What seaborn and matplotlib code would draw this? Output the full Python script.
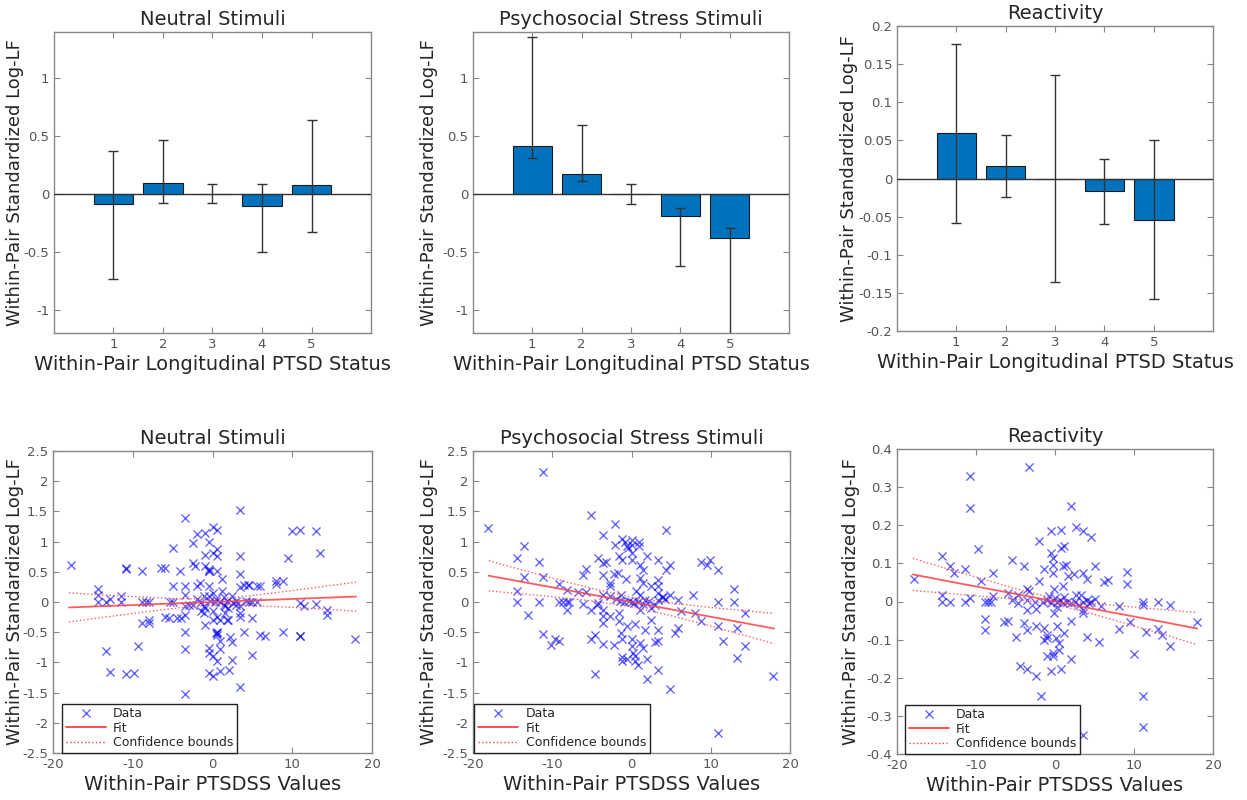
import numpy as np
import pandas as pd
import seaborn as sns
import matplotlib.pyplot as plt
from matplotlib.lines import Line2D
from matplotlib.ticker import FuncFormatter

# --- dados: linha de cima (barras) ---
status = [1, 2, 3, 4, 5]
neutral_bar = [-0.09, 0.095, 0.0, -0.105, 0.078]
neutral_lo = [-0.73, -0.08, -0.08, -0.50, -0.33]
neutral_hi = [0.375, 0.465, 0.085, 0.09, 0.64]

stress_bar = [0.418, 0.175, 0.0, -0.19, -0.38]
stress_lo = [0.31, 0.11, -0.085, -0.62, -1.30]
stress_hi = [1.36, 0.60, 0.09, -0.12, -0.29]

react_bar = [0.060, 0.017, 0.0, -0.017, -0.054]
react_lo = [-0.058, -0.024, -0.136, -0.060, -0.158]
react_hi = [0.177, 0.057, 0.136, 0.025, 0.051]

# --- dados: linha de baixo (dispersao) ---
neutral_x = [-17.8, -14.4, -14.4, -14.4, -13.3, -12.9, -13.3, -12.9, -11.5, -11.5, -10.9, -10.9, -10.9, -9.8,
             -9.4, -8.8, -8.8, -8.8, -8.4, -8.0, -8.0, -8.0, -6.4, -6.0, -6.0, -5.5, -5.3, -4.9, -4.9, -4.9,
             -4.5, -4.0, -4.1, -3.4, -3.4, -3.4, -3.4, -3.4, -3.4, -3.4, -3.4, -2.5, -2.2, -2.5, -2.0, -2.0,
             -1.6, -1.5, -1.1, -1.1, -1.1, -1.0, -1.0, -1.0, -1.0, 0.0, -0.5, -0.5, -0.5, -0.5, -0.5, -0.5,
             -0.5, 0.0, 0.0, 0.0, 0.0, 0.0, 0.6, 0.6, 0.6, 0.6, 0.6, 0.6, 0.6, 0.6, 1.0, 1.0, 1.0, 1.2, 1.2,
             1.4, 1.6, 1.6, 1.8, 2.1, 2.2, 2.5, 2.5, 2.6, 3.5, 3.5, 3.5, 3.5, 3.5, 3.5, 3.5, 3.5, 4.0, 4.4,
             4.6, 4.0, 4.6, 5.0, 5.0, 5.6, 6.0, 5.6, 6.0, 6.6, 8.0, 8.0, 8.9, 8.9, 9.5, 10.0, 11.0, 11.0,
             11.0, 11.0, 11.5, 13.0, 13.0, 13.5, 14.3, 14.3, 17.9,
             -2.0, -1.0, 0.5, 1.0, 1.5, 2.0, 2.5, 3.0, -0.5, 0.0, 1.0, 2.0, -1.5, -2.5, 0.3, -0.3, 1.8,
             3.0, 4.2, 5.0, -3.0, 0.6, 0.5, -0.4]
neutral_y = [0.61, 0.22, 0.12, 0.0, 0.0, 0.05, -0.81, -1.16, 0.1, 0.0, 0.56, 0.55, -1.19, -1.18,
             -0.73, 0.51, -0.35, 0.0, 0.0, 0.0, -0.3, -0.35, 0.56, 0.56, -0.25, -0.27, 0.0, 0.9, 0.26, 0.0,
             -0.27, -0.27, 0.51, 1.39, 0.26, 0.12, -0.21, -0.49, -0.77, -1.52, -0.07, 0.65, 0.59, 0.97, 1.12, 0.26,
             0.31, 0.0, 0.1, -0.07, -0.18, 1.14, 0.77, 0.59, -0.38, 1.24, 1.0, 0.51, 0.54, 0.26, -0.76, -0.85,
             -1.18, 0.81, 0.15, -0.15, -1.23, -0.9, 1.19, 0.87, 0.76, 0.51, -0.51, -0.49, -0.98, -0.25, -0.78, -0.65, -1.15, 0.38, 0.18,
             0.09, -0.07, -0.18, -0.29, -1.12, -0.58, -0.66, -0.96, -0.02, 1.52, 0.76, 0.47, 0.25, -0.07, -0.18, -0.25, -1.4, 0.28, 0.28,
             0.28, -0.5, 0.0, -0.87, -0.27, 0.27, 0.26, 0.0, -0.54, -0.56, 0.34, 0.29, 0.34, -0.5, 0.73, 1.18, 1.19, -0.02,
             -0.56, -0.57, -0.07, 1.17, -0.04, 0.81, -0.13, -0.21, -0.61,
             0.05, -0.1, 0.05, 0.0, -0.05, -0.1, 0.1, -0.05, 0.1, -0.3, -0.3, -0.3, -0.15, -0.05, 0.0, 0.02, 0.02,
             0.02, 0.02, 0.0, -0.05, -0.55, -0.52, 0.52]

stress_x = [-18.1, -14.5, -14.5, -14.5, -13.6, -13.6, -13.1, -11.7, -11.7, -11.2, -11.2, -11.2, -10.1, -9.6,
            -9.1, -9.1, -9.1, -8.6, -8.2, -7.9, -8.2, -8.2, -6.7, -6.1, -5.8, -6.1, -5.8, -5.1, -5.1, -5.1,
            -4.6, -4.6, -4.2, -4.4, -4.2, -3.6, -3.6, -3.2, -3.6, -3.6, -3.6, -3.6, -3.6, -3.6, -2.7, -2.7,
            -2.7, -2.7, -2.2, -2.2, -2.1, -2.1, -1.7, -1.6, -1.2, -1.5, -1.6, -1.6, -1.2, -0.8, -1.3, -1.3,
            -1.2, -1.2, -1.2, -0.7, -0.6, -0.4, -0.6, -0.6, 0.0, 0.1, 0.0, 0.0, 0.0, 0.0, 0.0, 0.2, 0.4,
            0.4, 0.4, 0.6, 0.8, 1.0, 1.0, 1.1, 1.1, 1.1, 1.1, 1.1, 1.4, 1.4, 1.4, 1.7, 1.7, 2.0, 2.0, 2.0,
            2.4, 2.4, 2.5, 3.0, 3.4, 3.4, 3.4, 3.4, 3.4, 3.4, 3.4, 3.4, 3.8, 4.4, 4.4, 4.8, 4.8, 4.8, 5.5,
            5.9, 5.9, 6.3, 7.8, 8.0, 8.8, 8.8, 9.5, 9.9, 10.9, 10.9, 10.9, 10.9, 11.5, 12.9, 12.9, 13.3,
            13.3, 14.3, 14.3, 17.9,
            -1.0, -0.3, 0.3, 0.8, 1.5, 2.2, 3.0, -2.0, 4.0, 4.2]
stress_y = [1.22, 0.73, 0.18, 0.0, 0.92, 0.42, -0.21, 0.66, 0.0, 2.16, 0.41, -0.53, -0.71, -0.62,
            -0.65, 0.3, 0.0, 0.0, 0.0, 0.0, 0.2, -0.13, 0.16, 0.45, 0.54, -0.04, 0.17, 1.44, -0.13, -0.62,
            -0.54, -1.19, 0.73, -0.05, -0.02, 1.11, 0.65, 0.67, 0.45, 0.12, -0.13, -0.24, -0.35, -0.69, 0.26, 0.31,
            0.1, -0.24, -0.71, 0.47, 1.29, 0.95, 0.48, 0.76, 0.7, 0.01, -0.18, -0.32, 1.05, 1.0, 0.12, -0.51,
            -0.62, -0.91, -0.98, 0.38, 0.93, 0.89, -0.4, -0.95, 1.03, 0.95, 0.81, 0.7, 0.0, -0.62, -0.73, -0.84, -0.37,
            -0.9, -0.98, 0.18, -1.04, 1.0, 0.92, 0.62, 0.4, 0.12, -0.13, -0.68, 0.53, 0.31, -0.76, 0.04, -0.46, 0.76, -0.95, -1.28,
            0.26, -0.29, -0.1, -0.67, 0.7, 0.37, 0.26, 0.15, 0.04, -0.46, -0.65, -1.12, 0.09, 1.2, 0.53, 0.62, 0.12, -1.44, -0.51,
            -0.43, 0.04, -0.15, 0.12, -0.18, -0.32, 0.66, 0.62, 0.7, 0.53, 0.0, -0.4, -2.17, -0.65, 0.21, 0.0, -0.43,
            -0.93, -0.18, -0.73, -1.23,
            0.0, 0.02, -0.02, 0.0, -0.03, 0.02, -0.05, 0.05, 0.08, 0.05]

react_x = [-17.9, -14.3, -14.3, -14.3, -13.3, -13.3, -12.8, -11.4, -11.4, -10.8, -10.8, -10.8, -9.8, -9.4,
           -8.9, -8.9, -8.9, -8.5, -8.1, -7.9, -7.9, -6.5, -6.0, -6.0, -5.4, -5.4, -4.9, -4.7, -4.7, -4.4,
           -3.9, -3.9, -3.5, -3.3, -3.5, -3.3, -3.5, -3.5, -3.5, -2.4, -2.4, -2.4, -2.0, -2.0, -1.8, -1.4,
           -1.4, -1.4, -1.0, -1.0, -1.0, -0.5, 0.8, -0.5, -0.3, -0.3, -0.3, -0.5, 0.8, -0.3, -0.2, -0.1,
           -0.1, 0.1, 0.3, 0.5, 0.5, 0.8, 1.1, 1.0, 1.0, 1.2, 1.4, 1.6, 2.0, 2.0, 2.0, 2.4, 2.6, 2.6, 3.3,
           3.5, 3.5, 3.5, 3.5, 3.5, 4.0, 4.0, 4.6, 4.6, 5.1, 5.1, 5.6, 5.8, 6.2, 6.7, 8.1, 8.1, 9.1, 9.1,
           9.5, 10.0, 11.1, 11.1, 11.1, 11.1, 11.5, 13.0, 13.0, 13.5, 14.6, 14.6, 18.0,
           -1.5, -1.0, -0.5, 0.0, 0.3, 0.6, 1.0, 1.5, 2.0, 2.5, 3.0, 3.5, 4.0, 4.3, -2.5, -0.8, 0.2, 1.2]
react_y = [0.058, 0.119, 0.016, 0.0, 0.093, 0.0, 0.075, 0.084, 0.0, 0.33, 0.246, 0.01, 0.138, 0.053,
           -0.047, -0.075, 0.0, 0.0, 0.0, 0.075, 0.014, -0.054, -0.05, 0.023, 0.108, 0.005, -0.093, 0.018, -0.005, -0.17,
           0.094, -0.056, -0.178, 0.352, 0.033, 0.027, 0.005, -0.021, -0.075, -0.019, -0.065, -0.196, 0.158, 0.053, -0.248, 0.084,
           -0.1, -0.07, -0.087, -0.095, -0.143, 0.184, 0.187, 0.128, 0.115, 0.097, 0.075, -0.183, -0.178, -0.135, -0.143, 0.032,
           -0.03, -0.096, -0.065, -0.108, -0.126, 0.14, 0.145, 0.093, 0.04, -0.082, 0.097, 0.066, 0.25, -0.052, -0.152, 0.071, 0.196, 0.018, 0.018,
           0.075, 0.184, -0.021, -0.03, -0.349, 0.058, -0.093, 0.17, 0.0, 0.094, 0.007, -0.106, -0.012, 0.051, 0.056, -0.012, -0.073, 0.077, 0.047,
           -0.054, -0.137, 0.0, -0.008, -0.247, -0.329, -0.08, 0.0, -0.072, -0.089, -0.01, -0.117, -0.054,
           0.0, 0.005, -0.005, 0.01, 0.0, 0.005, -0.003, 0.0, -0.005, 0.0, -0.01, 0.0, 0.003, -0.005, 0.0, 0.015, -0.015, 0.012]

# ajuste linear e limites de confianca
fit_x = [-18, -13.5, -9, -4.5, 0, 4.5, 9, 13.5, 18]
neutral_fit = [-0.09, -0.068, -0.045, -0.022, 0.0, 0.022, 0.045, 0.068, 0.09]
neutral_up = [0.15, 0.116, 0.083, 0.055, 0.05, 0.10, 0.173, 0.25, 0.33]
neutral_dn = [-0.33, -0.25, -0.173, -0.10, -0.05, -0.055, -0.083, -0.116, -0.15]

stress_fit = [0.435, 0.326, 0.218, 0.109, 0.0, -0.11, -0.22, -0.33, -0.44]
stress_up = [0.685, 0.52, 0.36, 0.21, 0.08, -0.01, -0.077, -0.135, -0.19]
stress_dn = [0.185, 0.13, 0.075, 0.01, -0.08, -0.21, -0.363, -0.525, -0.69]

react_fit = [0.071, 0.053, 0.0355, 0.018, 0.0, -0.018, -0.0355, -0.053, -0.071]
react_up = [0.113, 0.085, 0.058, 0.031, 0.008, -0.005, -0.013, -0.021, -0.029]
react_dn = [0.029, 0.021, 0.013, 0.005, -0.008, -0.031, -0.058, -0.085, -0.113]

titles = ['Neutral Stimuli', 'Psychosocial Stress Stimuli', 'Reactivity']
ylab = 'Within-Pair Standardized Log-LF'

sns.set_theme(style='white')
plt.rcParams['font.family'] = ['DejaVu Sans']
plt.rcParams['axes.unicode_minus'] = False

BAR = '#0072BD'
GRAY = '#555555'
# '%g' sem o "-0" que aparece com arange
fmt = FuncFormatter(lambda v, p: '%g' % (round(v, 4) + 0.0))

fig = plt.figure(figsize=(12.47, 8.0), dpi=100)
W, H = 1247.0, 800.0


def mk_ax(l, t, r, b):
    return fig.add_axes([l / W, 1 - b / H, (r - l) / W, (b - t) / H])


def style_ax(ax):
    for s in ax.spines.values():
        s.set_color('#888888')
        s.set_linewidth(1.0)
    ax.tick_params(direction='in', length=4, width=0.8, color='#888888', labelcolor=GRAY,
                   labelsize=9.5, top=True, right=True, bottom=True, left=True, pad=3.5)
    ax.xaxis.set_major_formatter(fmt)
    ax.yaxis.set_major_formatter(fmt)


top_boxes = [(54, 32, 371, 333), (473, 32, 789, 333), (897, 26, 1213, 331)]
bars = [(neutral_bar, neutral_lo, neutral_hi), (stress_bar, stress_lo, stress_hi), (react_bar, react_lo, react_hi)]
top_ylim = [(-1.2, 1.4), (-1.2, 1.4), (-0.2, 0.2)]
top_yticks = [[-1, -0.5, 0, 0.5, 1], [-1, -0.5, 0, 0.5, 1], np.arange(-0.2, 0.21, 0.05)]
top_ylx = [-0.094, -0.111, -0.123]

for i in range(3):
    ax = mk_ax(*top_boxes[i])
    vals, lo, hi = bars[i]
    df = pd.DataFrame({'status': status, 'val': vals})
    sns.barplot(data=df, x='status', y='val', native_scale=True, width=0.8, color=BAR, saturation=1,
                edgecolor='#1a1a1a', linewidth=0.8, errorbar=None, ax=ax, zorder=2)
    ax.axhline(0, color='#333333', lw=1.0, zorder=3)
    ax.errorbar(status, vals,
                yerr=[np.array(vals) - np.array(lo), np.array(hi) - np.array(vals)],
                fmt='none', ecolor='#333333', elinewidth=1.0, capsize=3.5, capthick=1.0, zorder=4)
    ax.set_xlim(-0.2, 6.2)
    ax.set_ylim(*top_ylim[i])
    ax.set_xticks(status)
    ax.set_yticks(top_yticks[i])
    style_ax(ax)
    ax.set_title(titles[i], fontsize=14, pad=5)
    ax.set_xlabel('Within-Pair Longitudinal PTSD Status', fontsize=14, labelpad=3)
    ax.set_ylabel(ylab, fontsize=13)
    ax.yaxis.set_label_coords(top_ylx[i], 0.5)

bot_boxes = [(53, 451, 372, 753), (473, 451, 790, 753), (897, 449, 1213, 754)]
scat = [(neutral_x, neutral_y, neutral_fit, neutral_up, neutral_dn),
        (stress_x, stress_y, stress_fit, stress_up, stress_dn),
        (react_x, react_y, react_fit, react_up, react_dn)]
bot_ylim = [(-2.5, 2.5), (-2.5, 2.5), (-0.4, 0.4)]
bot_yticks = [np.arange(-2.5, 2.51, 0.5), np.arange(-2.5, 2.51, 0.5), np.arange(-0.4, 0.41, 0.1)]
bot_ylx = [-0.091, -0.11, -0.117]
leg_x = [0.028, 0.004, 0.025]

for i in range(3):
    ax = mk_ax(*bot_boxes[i])
    xs, ys, fy, fu, fd = scat[i]
    sns.scatterplot(x=xs, y=ys, marker='x', color='#0000ff', alpha=0.6, s=34, linewidth=1.0, ax=ax, zorder=3)
    sns.lineplot(x=fit_x, y=fy, color='#ff4040', lw=1.3, alpha=0.85, ax=ax, zorder=4)
    sns.lineplot(x=fit_x, y=fu, color='#ff4040', lw=1.0, ls=':', alpha=0.85, ax=ax, zorder=4)
    sns.lineplot(x=fit_x, y=fd, color='#ff4040', lw=1.0, ls=':', alpha=0.85, ax=ax, zorder=4)
    ax.set_xlim(-20, 20)
    ax.set_ylim(*bot_ylim[i])
    ax.set_xticks([-20, -10, 0, 10, 20])
    ax.set_yticks(bot_yticks[i])
    style_ax(ax)
    ax.set_title(titles[i], fontsize=14, pad=5)
    ax.set_xlabel('Within-Pair PTSDSS Values', fontsize=14, labelpad=3)
    ax.set_ylabel(ylab, fontsize=13)
    ax.yaxis.set_label_coords(bot_ylx[i], 0.5)
    handles = [Line2D([], [], marker='x', ls='none', color='#0000ff', alpha=0.6, markersize=6),
               Line2D([], [], color='#ff4040', lw=1.3),
               Line2D([], [], color='#ff4040', lw=1.0, ls=':')]
    leg = ax.legend(handles, ['Data', 'Fit', 'Confidence bounds'], loc='lower left',
                    bbox_to_anchor=(leg_x[i], 0.0), borderaxespad=0, fontsize=9, frameon=True,
                    fancybox=False, edgecolor='#222222', framealpha=1, handlelength=3.2,
                    labelspacing=0.12, borderpad=0.3, handletextpad=0.6)
    leg.get_frame().set_linewidth(1.0)

fig.savefig('out.png', dpi=100)
